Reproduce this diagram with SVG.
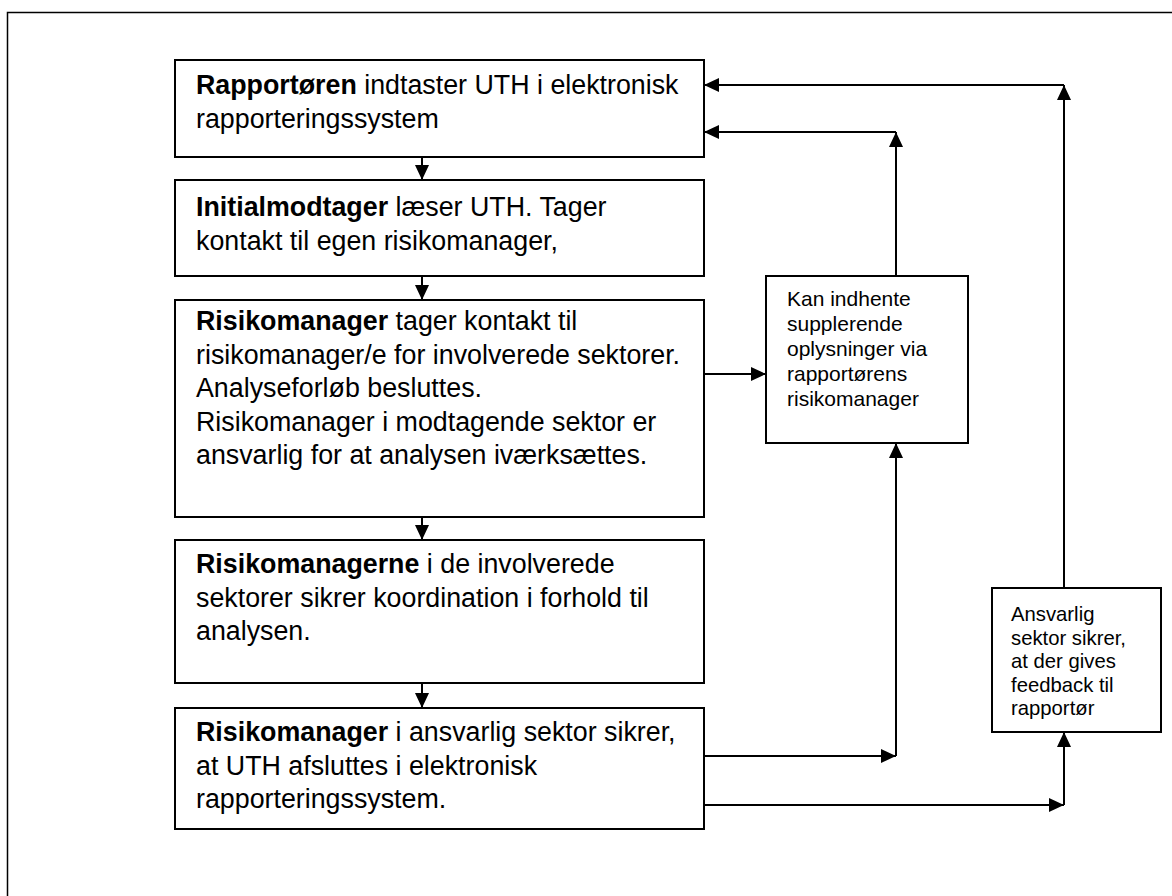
<svg xmlns="http://www.w3.org/2000/svg" width="1172" height="896" viewBox="0 0 1172 896">
  <style>
    .frame { fill: none; stroke: #000; stroke-width: 1.5; }
    .box { fill: #fff; stroke: #000; stroke-width: 2; }
    .main { font-family: "Liberation Sans", Arial, sans-serif; font-size: 26.8px; fill: #000; }
    .small { font-family: "Liberation Sans", Arial, sans-serif; font-size: 20.3px; fill: #000; }
    .info { font-size: 21px; }
    .b { font-weight: bold; }
    .wire { fill: none; stroke: #000; stroke-width: 2; }
  </style>
  <defs>
    <marker id="arrow" viewBox="0 0 15 14" refX="15" refY="7" markerWidth="15" markerHeight="14" markerUnits="userSpaceOnUse" orient="auto">
      <path d="M0,0 L15,7 L0,14 Z" fill="#000"/>
    </marker>
  </defs>

  <rect width="1172" height="896" fill="#fff"/>
  <!-- page frame, running off the right and bottom edges -->
  <rect class="frame" x="7.5" y="12.5" width="1180" height="900"/>

  <g id="connectors">
    <!-- main chain -->
    <line class="wire" x1="422" y1="157" x2="422" y2="180" marker-end="url(#arrow)"/>
    <line class="wire" x1="422" y1="276" x2="422" y2="300" marker-end="url(#arrow)"/>
    <line class="wire" x1="422" y1="517" x2="422" y2="540" marker-end="url(#arrow)"/>
    <line class="wire" x1="422" y1="683" x2="422" y2="708" marker-end="url(#arrow)"/>
    <!-- risk manager to info box -->
    <line class="wire" x1="704" y1="374" x2="766" y2="374" marker-end="url(#arrow)"/>
    <!-- info box back to reporter -->
    <line class="wire" x1="896" y1="276" x2="896" y2="132" marker-end="url(#arrow)"/>
    <line class="wire" x1="896" y1="132" x2="704" y2="132" marker-end="url(#arrow)"/>
    <!-- feedback box back to reporter -->
    <line class="wire" x1="1064" y1="588" x2="1064" y2="85" marker-end="url(#arrow)"/>
    <line class="wire" x1="1064" y1="85" x2="704" y2="85" marker-end="url(#arrow)"/>
    <!-- closing box to info box -->
    <line class="wire" x1="704" y1="756" x2="896" y2="756" marker-end="url(#arrow)"/>
    <line class="wire" x1="896" y1="756" x2="896" y2="443" marker-end="url(#arrow)"/>
    <!-- closing box to feedback box -->
    <line class="wire" x1="704" y1="805" x2="1064" y2="805" marker-end="url(#arrow)"/>
    <line class="wire" x1="1064" y1="805" x2="1064" y2="732" marker-end="url(#arrow)"/>
  </g>

  <g id="reporter">
    <rect class="box" x="175" y="60" width="529" height="97"/>
    <text class="main" x="196" y="94"><tspan class="b">Rapportøren</tspan> indtaster UTH i elektronisk</text>
    <text class="main" x="196" y="127.5">rapporteringssystem</text>
  </g>

  <g id="initial-receiver">
    <rect class="box" x="175" y="180" width="529" height="96"/>
    <text class="main" x="196" y="216"><tspan class="b">Initialmodtager</tspan> læser UTH. Tager</text>
    <text class="main" x="196" y="249.5">kontakt til egen risikomanager,</text>
  </g>

  <g id="risk-manager">
    <rect class="box" x="175" y="300" width="529" height="217"/>
    <text class="main" x="196" y="330"><tspan class="b">Risikomanager</tspan> tager kontakt til</text>
    <text class="main" x="196" y="363.5">risikomanager/e for involverede sektorer.</text>
    <text class="main" x="196" y="397">Analyseforløb besluttes.</text>
    <text class="main" x="196" y="430.5">Risikomanager i modtagende sektor er</text>
    <text class="main" x="196" y="464">ansvarlig for at analysen iværksættes.</text>
  </g>

  <g id="risk-managers">
    <rect class="box" x="175" y="540" width="529" height="143"/>
    <text class="main" x="196" y="573"><tspan class="b">Risikomanagerne</tspan> i de involverede</text>
    <text class="main" x="196" y="606.5">sektorer sikrer koordination i forhold til</text>
    <text class="main" x="196" y="640">analysen.</text>
  </g>

  <g id="closing">
    <rect class="box" x="175" y="708" width="529" height="121"/>
    <text class="main" x="196" y="741"><tspan class="b">Risikomanager</tspan> i ansvarlig sektor sikrer,</text>
    <text class="main" x="196" y="774.5">at UTH afsluttes i elektronisk</text>
    <text class="main" x="196" y="808">rapporteringssystem.</text>
  </g>

  <g id="extra-info">
    <rect class="box" x="766" y="276" width="202" height="167"/>
    <text class="small info" x="787" y="306">Kan indhente</text>
    <text class="small info" x="787" y="331">supplerende</text>
    <text class="small info" x="787" y="356">oplysninger via</text>
    <text class="small info" x="787" y="381">rapportørens</text>
    <text class="small info" x="787" y="406">risikomanager</text>
  </g>

  <g id="feedback">
    <rect class="box" x="992" y="588" width="169" height="144"/>
    <text class="small" x="1011" y="621">Ansvarlig</text>
    <text class="small" x="1011" y="644.5">sektor sikrer,</text>
    <text class="small" x="1011" y="668">at der gives</text>
    <text class="small" x="1011" y="691.5">feedback til</text>
    <text class="small" x="1011" y="715">rapportør</text>
  </g>
</svg>
